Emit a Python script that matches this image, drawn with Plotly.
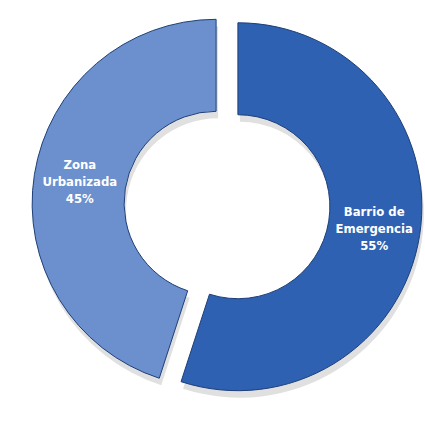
import plotly.graph_objects as go

labels = ["Barrio de<br>Emergencia", "Zona<br>Urbanizada"]
values = [55, 45]
colors = ["#2e61b1", "#6b90cd"]

W, H = 425, 436
ml, mr, mt, mb = 32, 3, 9, 35

def dom(dx=0, dy=0):
    return dict(
        x=[max(0, (ml + dx) / W), min(1, (W - mr + dx) / W)],
        y=[max(0, (mb - dy) / H), min(1, (H - mt - dy) / H)],
    )

fig = go.Figure()

# soft shadow underneath
fig.add_trace(go.Pie(
    labels=labels, values=values, sort=False, direction="clockwise",
    hole=0.5, pull=[0.06, 0.06], domain=dom(2, 7),
    marker=dict(colors=["rgba(0,0,0,0.12)", "rgba(0,0,0,0.12)"], line=dict(width=0)),
    textinfo="none", hoverinfo="skip", showlegend=False,
))

fig.add_trace(go.Pie(
    labels=labels, values=values, sort=False, direction="clockwise",
    hole=0.5, pull=[0.06, 0.06], domain=dom(),
    marker=dict(colors=colors, line=dict(color="#1d3f78", width=1)),
    texttemplate="<b>%{label}<br>%{percent:.0%}</b>",
    textposition="inside", insidetextorientation="horizontal",
    textfont=dict(family="DejaVu Sans Condensed, Liberation Sans Narrow, Arial Narrow, sans-serif",
                  size=13, color="white"),
    showlegend=False,
))

fig.update_layout(
    width=W, height=H,
    margin=dict(l=0, r=0, t=0, b=0),
    paper_bgcolor="white", plot_bgcolor="white",
)

fig.write_html("out.html", config={"displayModeBar": False},
               post_script="document.body.style.margin='0';")
